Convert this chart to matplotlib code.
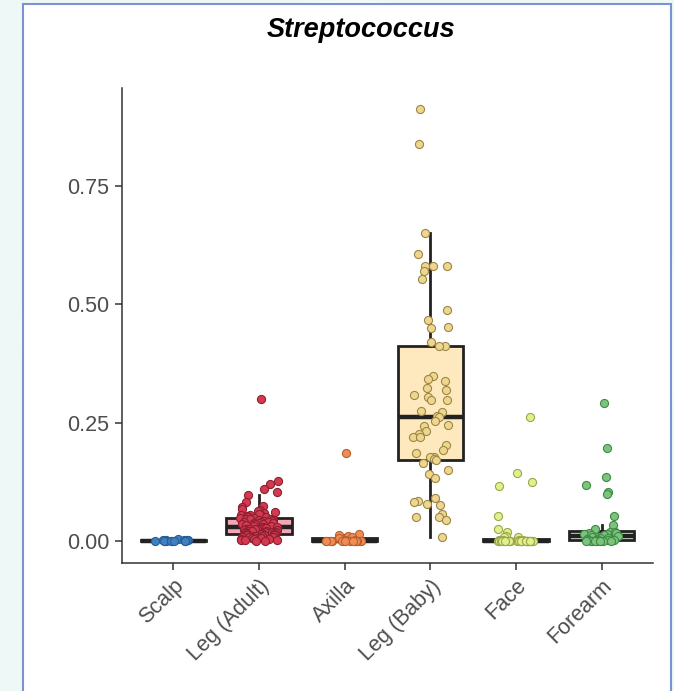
import numpy as np
import matplotlib.pyplot as plt
from matplotlib.patches import Rectangle, Ellipse

plt.rcParams["font.family"] = ["Liberation Sans", "DejaVu Sans"]

# relative abundance of Streptococcus per body site
sites = ["Scalp", "Leg (Adult)", "Axilla", "Leg (Baby)", "Face", "Forearm"]

scalp = [0.004, 0.003, 0.003, 0.002, 0.002, 0.002, 0.001, 0.001, 0.001, 0.001,
         0.0, 0.0, 0.0, 0.0, 0.0]
leg_adult = [0.300, 0.127, 0.120, 0.109, 0.104, 0.097, 0.083, 0.074, 0.072, 0.068,
             0.066, 0.064, 0.062, 0.060, 0.058, 0.057, 0.055, 0.054, 0.052, 0.051,
             0.050, 0.049, 0.048, 0.047, 0.046, 0.046, 0.045, 0.044, 0.043, 0.042,
             0.041, 0.040, 0.040, 0.039, 0.038, 0.037, 0.036, 0.035, 0.035, 0.034,
             0.033, 0.032, 0.031, 0.030, 0.030, 0.029, 0.028, 0.027, 0.026, 0.026,
             0.025, 0.025, 0.024, 0.023, 0.022, 0.022, 0.021, 0.020, 0.020, 0.019,
             0.018, 0.018, 0.017, 0.016, 0.016, 0.015, 0.014, 0.014, 0.013, 0.012,
             0.012, 0.011, 0.010, 0.010, 0.009, 0.008, 0.008, 0.007, 0.006, 0.006,
             0.005, 0.004, 0.004, 0.003, 0.002, 0.002, 0.001, 0.001]
axilla = [0.185, 0.015, 0.012, 0.010, 0.009, 0.007, 0.002, 0.002, 0.001, 0.001,
          0.001, 0.0, 0.0, 0.0, 0.0, 0.0, 0.0, 0.0, 0.0, 0.0, 0.0, 0.0]
leg_baby = [0.912, 0.838, 0.651, 0.606, 0.581, 0.580, 0.580, 0.571, 0.554, 0.488,
            0.467, 0.453, 0.449, 0.420, 0.411, 0.411, 0.349, 0.342, 0.339, 0.324,
            0.319, 0.308, 0.305, 0.298, 0.298, 0.275, 0.273, 0.265, 0.261, 0.254,
            0.245, 0.242, 0.232, 0.227, 0.220, 0.219, 0.203, 0.192, 0.185, 0.178,
            0.178, 0.173, 0.171, 0.164, 0.150, 0.142, 0.134, 0.090, 0.085, 0.082,
            0.078, 0.076, 0.057, 0.051, 0.051, 0.044, 0.009]
face = [0.261, 0.143, 0.125, 0.116, 0.053, 0.025, 0.018, 0.011, 0.009, 0.008,
        0.002, 0.002, 0.002, 0.002, 0.001, 0.001, 0.001, 0.001, 0.001, 0.001,
        0.0, 0.0, 0.0, 0.0, 0.0, 0.0, 0.0, 0.0, 0.0, 0.0, 0.0, 0.0, 0.0, 0.0,
        0.0, 0.0, 0.0, 0.0, 0.0, 0.0]
forearm = [0.291, 0.196, 0.135, 0.118, 0.104, 0.099, 0.053, 0.034, 0.025, 0.020,
           0.018, 0.017, 0.016, 0.015, 0.014, 0.013, 0.012, 0.010, 0.009, 0.008,
           0.007, 0.006, 0.005, 0.004, 0.003, 0.003, 0.002, 0.002, 0.001, 0.001,
           0.0, 0.0, 0.0, 0.0, 0.0, 0.0]
groups = [scalp, leg_adult, axilla, leg_baby, face, forearm]

point_fill = ["#3f80c2", "#d33a50", "#f08c55", "#efd690", "#e3ee8c", "#7cc47e"]
point_edge = ["#285e96", "#8c1f30", "#b8602e", "#9c8744", "#9aa84a", "#3f8a45"]
box_fill = ["#b9d3ee", "#f2a7b5", "#f9c6a6", "#fde9bd", "#f3f8c6", "#cdebc8"]

fig = plt.figure(figsize=(6.74, 6.91), dpi=100)
fig.patch.set_facecolor("#eef8f6")
fig.patches.append(Ellipse((0.52, 0.52), 0.98, 0.96, transform=fig.transFigure,
                           facecolor="#f5fbfa", edgecolor="none", zorder=-2))
fig.patches.append(Rectangle((23 / 674, -0.01), 648 / 674, (691 - 4) / 691 + 0.01,
                             transform=fig.transFigure, facecolor="white",
                             edgecolor="#7b93d6", linewidth=1.5, zorder=-1))

ax = fig.add_axes([122 / 674, (691 - 563) / 691, (653 - 122) / 674, (563 - 88) / 691])
ax.set_facecolor("none")

pos = np.arange(len(sites))
bp = ax.boxplot(groups, positions=pos, widths=0.76, patch_artist=True,
                showfliers=False, whis=1.5, zorder=2,
                boxprops=dict(linewidth=2.0, edgecolor="#222222"),
                whiskerprops=dict(linewidth=2.0, color="#222222"),
                capprops=dict(linewidth=0),
                medianprops=dict(linewidth=3.2, color="#222222", solid_capstyle="butt"))
for patch, fc in zip(bp["boxes"], box_fill):
    patch.set_facecolor(fc)

# jittered points on top of the boxes
rng = np.random.default_rng(7)
for i, vals in enumerate(groups):
    xs = i + rng.uniform(-0.22, 0.22, len(vals))
    ax.scatter(xs, vals, s=34, facecolor=point_fill[i], edgecolor=point_edge[i],
               linewidth=0.8, zorder=3)

ax.set_xlim(-0.6, 5.6)
ax.set_ylim(-0.0465, 0.957)
ax.set_yticks([0, 0.25, 0.5, 0.75])
ax.set_yticklabels(["0.00", "0.25", "0.50", "0.75"])
ax.set_xticks(pos)
ax.set_xticklabels(sites, rotation=45, ha="right", rotation_mode="anchor")

for side in ["top", "right"]:
    ax.spines[side].set_visible(False)
for side in ["left", "bottom"]:
    ax.spines[side].set_color("#333333")
    ax.spines[side].set_linewidth(1.1)
ax.tick_params(axis="both", colors="#333333", width=1.1, length=5,
               labelsize=15.5, labelcolor="#4d4d4d", pad=4)

fig.text(361 / 674, 1 - 30 / 691, "Streptococcus", ha="center", va="center",
         fontsize=19.5, fontweight="bold", fontstyle="italic", zorder=5)

fig.savefig("out.png", dpi=100, facecolor=fig.get_facecolor())
